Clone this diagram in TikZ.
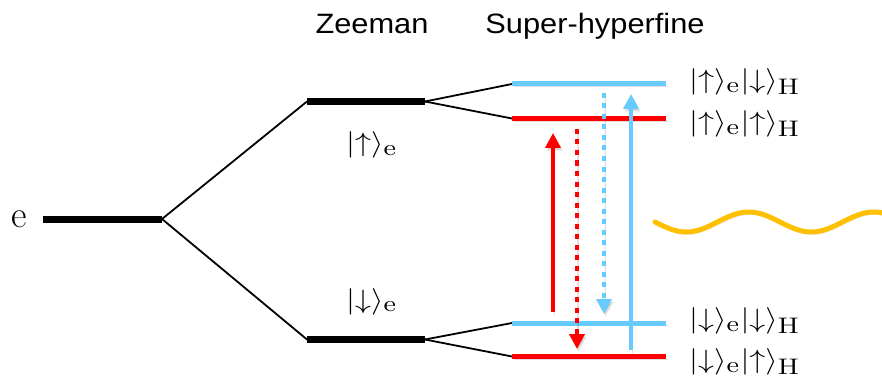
\documentclass[tikz,border=0pt]{standalone}
\usepackage{graphicx}
\usepackage{fontspec}
\newfontfamily\titlefont{Liberation Sans}[FakeStretch=1.1]
\usetikzlibrary{arrows.meta}
\definecolor{lblue}{HTML}{66CCFF}
\definecolor{lred}{HTML}{FF0000}
\definecolor{wavec}{HTML}{FFC000}
\newcommand{\ketlab}[1]{\scalebox{3.2}[2.65]{$#1$}}
\newcommand{\sbx}[1]{\hbox{\fontsize{8.5}{10}\selectfont #1}}
\tikzset{
  shadowed/.style={preaction={draw=black, draw opacity=0.13, fill opacity=0.13, transform canvas={shift={(1.5pt,-2.5pt)}}}},
  blacklevel/.style={line width=7pt},
  link/.style={line width=1.8pt},
  bluelevel/.style={draw=lblue, line width=5pt, shadowed},
  redlevel/.style={draw=lred, line width=5pt, shadowed},
  solidarrow/.style={line width=4pt, -{Triangle[width=15pt,length=15pt]}, shadowed},
  dotarrow/.style={line width=4.5pt, dash pattern=on 5pt off 5.5pt, -{Triangle[width=15pt,length=15pt]}, shadowed},
  title/.style={font=\titlefont\fontsize{28}{30}\selectfont, anchor=base, inner sep=0pt},
  ket/.style={font=\fontsize{10}{12}\selectfont, anchor=base west, inner sep=0pt},
}
\begin{document}
\begin{tikzpicture}[x=1pt,y=-1pt]
\useasboundingbox (0,0) rectangle (882,382);
% titles
\node[title] (tz) at (372,34) {Zeeman};
\node[title] (ts) at (595,34) {Super-hyperfine};
% level coordinates
\coordinate (e0) at (43,219); \coordinate (e1) at (162,219);
\coordinate (zu0) at (307,101.5); \coordinate (zu1) at (425,101.5);
\coordinate (zd0) at (307,339.5); \coordinate (zd1) at (425,339.5);
\coordinate (hu0) at (512,84); \coordinate (hu1) at (666,84);
\coordinate (hr0) at (512,118.5); \coordinate (hr1) at (666,118.5);
\coordinate (hd0) at (512,323); \coordinate (hd1) at (666,323);
\coordinate (hdr0) at (512,356.5); \coordinate (hdr1) at (666,356.5);
% links
\draw[link] (e1) -- (zu0);
\draw[link] (e1) -- (zd0);
\draw[link] (zu1) -- (hu0);
\draw[link] (zu1) -- (hr0);
\draw[link] (zd1) -- (hd0);
\draw[link] (zd1) -- (hdr0);
% black levels
\draw[blacklevel] (e0) -- (e1);
\draw[blacklevel] (zu0) -- (zu1);
\draw[blacklevel] (zd0) -- (zd1);
% coloured levels
\draw[bluelevel] (hu0) -- (hu1);
\draw[redlevel] (hr0) -- (hr1);
\draw[bluelevel] (hd0) -- (hd1);
\draw[redlevel] (hdr0) -- (hdr1);
% transitions
\coordinate (ra0) at (553,312); \coordinate (ra1) at (553,133);
\coordinate (rd0) at (577,129); \coordinate (rd1) at (577,349);
\coordinate (bd0) at (604,93); \coordinate (bd1) at (604,314);
\coordinate (ba0) at (631,350); \coordinate (ba1) at (631,94);
\draw[solidarrow, draw=lred, fill=lred] (ra0) -- (ra1);
\draw[dotarrow, draw=lred, fill=lred] (rd0) -- (rd1);
\draw[dotarrow, draw=lblue, fill=lblue] (bd0) -- (bd1);
\draw[solidarrow, draw=lblue, fill=lblue] (ba0) -- (ba1);
% wave
\draw[draw=wavec, line width=5pt, line cap=round, shadowed]
  plot[domain=655:884, samples=90, smooth] (\x, {222+10*sin(2.88*(\x-655))});
% labels
\node[font=\fontsize{38}{40}\selectfont, inner sep=0pt] (le) at (19,219) {e};
\node[ket] (lzu) at (346,151.5) {\ketlab{|{\uparrow}\rangle_{\sbx{e}}}};
\node[ket] (lzd) at (346,308) {\ketlab{|{\downarrow}\rangle_{\sbx{e}}}};
\node[ket] (l1) at (689,88.5) {\ketlab{|{\uparrow}\rangle_{\sbx{e}}|{\downarrow}\rangle_{\sbx{H}}}};
\node[ket] (l2) at (689,130.5) {\ketlab{|{\uparrow}\rangle_{\sbx{e}}|{\uparrow}\rangle_{\sbx{H}}}};
\node[ket] (l3) at (689,327.5) {\ketlab{|{\downarrow}\rangle_{\sbx{e}}|{\downarrow}\rangle_{\sbx{H}}}};
\node[ket] (l4) at (689,368.5) {\ketlab{|{\downarrow}\rangle_{\sbx{e}}|{\uparrow}\rangle_{\sbx{H}}}};
\end{tikzpicture}
\end{document}
